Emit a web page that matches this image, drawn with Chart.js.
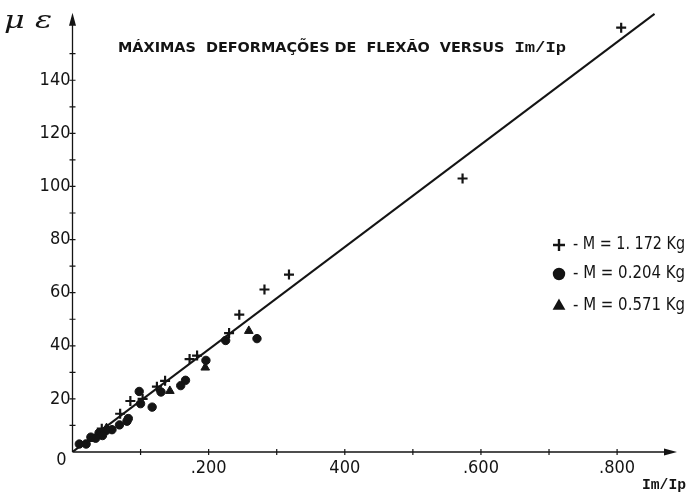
<!DOCTYPE html>
<html>
<head>
<meta charset="utf-8">
<script src="https://cdn.jsdelivr.net/npm/chart.js@4"></script>
<style>
  html, body { margin: 0; padding: 0; background: #fff; }
</style>
</head>
<body>
<canvas id="chart" width="688" height="494"></canvas>
<script>
// Values
const crossX = [0.806, 0.573, 0.318, 0.282, 0.245, 0.230, 0.183, 0.172, 0.136, 0.124, 0.103, 0.085, 0.070, 0.043, 0.024];
const crossY = [159.8, 103.0, 66.8, 61.2, 51.7, 44.8, 36.3, 35.0, 26.8, 24.6, 20.0, 19.2, 14.4, 8.8, 4.2];

const dotX = [0.271, 0.225, 0.196, 0.166, 0.159, 0.130, 0.117, 0.098, 0.100, 0.082, 0.080, 0.069, 0.058, 0.049, 0.039, 0.044, 0.034, 0.027, 0.020, 0.010];
const dotY = [42.7, 42.0, 34.5, 27.0, 25.0, 22.6, 16.9, 22.8, 18.2, 12.6, 11.6, 10.2, 8.4, 8.0, 7.2, 6.2, 5.2, 5.6, 3.0, 3.0];

const triX = [0.259, 0.195, 0.143, 0.050, 0.036];
const triY = [45.6, 31.8, 23.0, 9.0, 6.0];

// fitted straight line
const fitX = [0, 0.855];
const fitY = [0, 165.0];

const xTickValues = [0, 0.1, 0.2, 0.3, 0.4, 0.5, 0.6, 0.7, 0.8];
const xTickLabels = ['', '', '.200', '', '400', '', '.600', '', '.800'];
const yTickValues = [0, 10, 20, 30, 40, 50, 60, 70, 80, 90, 100, 110, 120, 130, 140, 150];
const yTickLabels = ['', '', '20', '', '40', '', '60', '', '80', '', '100', '', '120', '', '140', ''];

const legendLabels = ['- M = 1. 172 Kg', '- M = 0.204 Kg', '- M = 0.571 Kg'];
const legendStyles = ['cross', 'circle', 'triangle'];

const INK = '#141414';
const tickFont = { family: "'DejaVu Sans Condensed', 'Liberation Sans Narrow', sans-serif", size: 18 };

function toPoints(xs, ys) {
  return xs.map((x, i) => ({ x: x, y: ys[i] }));
}

function labelFor(values, labels, v) {
  const i = values.findIndex(t => Math.abs(t - v) < 1e-9);
  return i >= 0 ? labels[i] : '';
}

// draw text squeezed/stretched to a given width
function fitText(ctx, text, x, y, width) {
  const w = ctx.measureText(text).width;
  ctx.save();
  ctx.translate(x, y);
  ctx.scale(width / w, 1);
  ctx.fillText(text, 0, 0);
  ctx.restore();
}

// Axes with arrows, crossing tick marks, titles and legend
const decor = {
  id: 'decor',
  beforeDatasetsDraw(chart) {
    const ctx = chart.ctx;
    const xs = chart.scales.x, ys = chart.scales.y;
    const x0 = xs.getPixelForValue(0), y0 = ys.getPixelForValue(0);
    const area = chart.chartArea;
    ctx.save();
    ctx.strokeStyle = INK;
    ctx.fillStyle = INK;
    ctx.lineWidth = 1.3;
    ctx.beginPath();
    ctx.moveTo(x0, y0);
    ctx.lineTo(area.right - 6, y0);
    ctx.moveTo(x0, y0);
    ctx.lineTo(x0, area.top + 6);
    ctx.stroke();
    // tick marks across the axes
    ctx.lineWidth = 1.2;
    ctx.beginPath();
    xTickValues.forEach(v => {
      if (v === 0) return;
      const px = xs.getPixelForValue(v);
      ctx.moveTo(px, y0 - 3);
      ctx.lineTo(px, y0 + 3);
    });
    yTickValues.forEach(v => {
      if (v === 0) return;
      const py = ys.getPixelForValue(v);
      ctx.moveTo(x0 - 3, py);
      ctx.lineTo(x0 + 3, py);
    });
    ctx.stroke();
    // arrow heads
    ctx.beginPath();
    ctx.moveTo(area.right, y0);
    ctx.lineTo(area.right - 13, y0 - 3.5);
    ctx.lineTo(area.right - 13, y0 + 3.5);
    ctx.closePath();
    ctx.fill();
    ctx.beginPath();
    ctx.moveTo(x0, area.top);
    ctx.lineTo(x0 - 3.5, area.top + 13);
    ctx.lineTo(x0 + 3.5, area.top + 13);
    ctx.closePath();
    ctx.fill();
    ctx.restore();
  },
  afterDraw(chart) {
    const ctx = chart.ctx;
    const xs = chart.scales.x, ys = chart.scales.y;
    const x0 = xs.getPixelForValue(0), y0 = ys.getPixelForValue(0);
    ctx.save();
    ctx.fillStyle = INK;
    ctx.strokeStyle = INK;
    ctx.textBaseline = 'middle';

    // origin label
    ctx.font = "18px 'DejaVu Sans Condensed', sans-serif";
    ctx.textAlign = 'center';
    ctx.fillText('0', x0 - 11, y0 + 8);

    // y axis unit
    ctx.textAlign = 'left';
    ctx.font = "italic 24px 'DejaVu Serif', serif";
    fitText(ctx, 'μ ε', 4, 22, 48);

    // x axis unit
    ctx.font = "bold 15px 'Liberation Mono', 'DejaVu Sans Mono', monospace";
    fitText(ctx, 'Im/Ip', 642, 485, 44);

    // title
    const t1 = 'MÁXIMAS  DEFORMAÇÕES DE  FLEXÃO  VERSUS  ';
    ctx.font = "bold 15px 'Liberation Mono', monospace";
    const w2 = ctx.measureText('Im/Ip').width;
    ctx.font = "bold 14px 'DejaVu Sans Condensed', sans-serif";
    const w1 = ctx.measureText(t1).width;
    const k = 448 / (w1 + w2);
    ctx.save();
    ctx.translate(118, 48);
    ctx.scale(k, 1);
    ctx.fillText(t1, 0, 0);
    ctx.font = "bold 15px 'Liberation Mono', monospace";
    ctx.fillText('Im/Ip', w1, 0);
    ctx.restore();

    // legend
    const rowsY = [245, 274, 306];
    ctx.font = "17px 'DejaVu Sans Condensed', sans-serif";
    ctx.lineWidth = 2.4;
    legendLabels.forEach((txt, i) => {
      const opts = { pointStyle: legendStyles[i], radius: legendStyles[i] === 'cross' ? 6 : 5, borderWidth: 2.4, rotation: 0 };
      Chart.helpers.drawPoint(ctx, opts, 559, rowsY[i]);
      if (legendStyles[i] !== 'cross') ctx.fill();
      fitText(ctx, txt, 573, rowsY[i], 112);
    });
    ctx.restore();
  }
};

new Chart(document.getElementById('chart'), {
  type: 'scatter',
  data: {
    datasets: [
      {
        label: 'ajuste',
        data: toPoints(fitX, fitY),
        showLine: true,
        borderColor: INK,
        borderWidth: 2,
        pointRadius: 0,
        fill: false
      },
      {
        label: 'M=1.172 Kg',
        data: toPoints(crossX, crossY),
        pointStyle: 'cross',
        pointRadius: 5,
        borderColor: INK,
        borderWidth: 2.2
      },
      {
        label: 'M=0.204 Kg',
        data: toPoints(dotX, dotY),
        pointStyle: 'circle',
        pointRadius: 4.2,
        backgroundColor: INK,
        borderColor: INK,
        borderWidth: 1
      },
      {
        label: 'M=0.571 Kg',
        data: toPoints(triX, triY),
        pointStyle: 'triangle',
        pointRadius: 5,
        backgroundColor: INK,
        borderColor: INK,
        borderWidth: 1
      }
    ]
  },
  options: {
    responsive: false,
    animation: false,
    events: [],
    layout: { padding: { left: 0, right: 11, top: 8, bottom: 0 } },
    plugins: {
      legend: { display: false },
      title: { display: false },
      tooltip: { enabled: false }
    },
    scales: {
      x: {
        type: 'linear',
        min: 0,
        max: 0.888,
        afterBuildTicks: s => { s.ticks = xTickValues.map(v => ({ value: v })); },
        afterFit: s => { s.height = 42; },
        grid: { display: false, drawTicks: false },
        border: { display: false },
        ticks: {
          autoSkip: false,
          maxRotation: 0,
          padding: 6,
          color: INK,
          font: tickFont,
          callback: v => labelFor(xTickValues, xTickLabels, v)
        }
      },
      y: {
        type: 'linear',
        min: 0,
        max: 165.4,
        afterBuildTicks: s => { s.ticks = yTickValues.map(v => ({ value: v })); },
        afterFit: s => { s.width = 72.5; },
        grid: { display: false, drawTicks: false },
        border: { display: false },
        ticks: {
          autoSkip: false,
          padding: 2,
          color: INK,
          font: tickFont,
          callback: v => labelFor(yTickValues, yTickLabels, v)
        }
      }
    }
  },
  plugins: [decor]
});
</script>
</body>
</html>
